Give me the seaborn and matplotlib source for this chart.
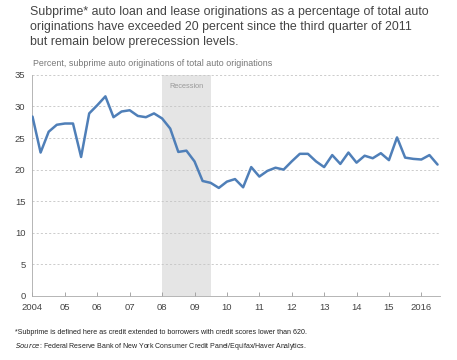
import numpy as np
import pandas as pd
import matplotlib
matplotlib.use("Agg")
import matplotlib.pyplot as plt
import seaborn as sns

# Quarterly data, 2004Q1 - 2016Q3
start_year = 2004
values = [28.4, 22.7, 26.0, 27.1,
          27.3, 27.3, 22.0, 28.9,
          30.2, 31.6, 28.3, 29.2,
          29.4, 28.5, 28.3, 28.9,
          28.1, 26.5, 22.8, 23.0,
          21.3, 18.2, 17.9, 17.1,
          18.1, 18.5, 17.2, 20.4,
          18.9, 19.8, 20.3, 20.0,
          21.3, 22.5, 22.5, 21.3,
          20.4, 22.3, 20.9, 22.7,
          21.1, 22.2, 21.8, 22.6,
          21.5, 25.1, 21.9, 21.7,
          21.6, 22.3, 20.8]
tick_years = list(range(2004, 2017))
tick_labels = ["2004", "05", "06", "07", "08", "09", "10", "11", "12", "13", "14", "15", "2016"]
y_ticks = [0, 5, 10, 15, 20, 25, 30, 35]
recession = (2008.0, 2009.5)

title = ("Subprime* auto loan and lease originations as a percentage of total auto\n"
         "originations have exceeded 20 percent since the third quarter of 2011\n"
         "but remain below prerecession levels.")
subtitle = "Percent, subprime auto originations of total auto originations"
note = "*Subprime is defined here as credit extended to borrowers with credit scores lower than 620."

df = pd.DataFrame({"t": [start_year + i * 0.25 for i in range(len(values))],
                   "v": values})

sns.set_theme(style="white")
plt.rcParams["font.family"] = ["Liberation Sans", "DejaVu Sans"]

fig = plt.figure(figsize=(4.57, 3.6), dpi=100)
ax = fig.add_axes([0.0711, 0.178, 0.892, 0.614])

ax.axvspan(recession[0], recession[1], color="#e5e5e5", lw=0, zorder=0)
ax.text((recession[0] + recession[1]) / 2, 33.2, "Recession", ha="center", va="center",
        fontsize=5.3, color="#999999")

for yv in y_ticks[1:]:
    ax.axhline(yv, color="#c4c4c4", lw=0.6, ls=(0, (2.5, 2.5)), zorder=1)

sns.lineplot(data=df, x="t", y="v", ax=ax, color="#4f7fb8", lw=1.8, zorder=3)

ax.set_xlim(2004, 2016.58)
ax.set_ylim(0, 35)
ax.set_xticks(tick_years)
ax.set_xticklabels(tick_labels)
ax.set_yticks(y_ticks)
ax.set_xlabel("")
ax.set_ylabel("")
ax.tick_params(axis="x", direction="in", length=3, width=0.6, color="#999999",
               labelsize=6.8, labelcolor="#444444", pad=5, bottom=True)
ax.tick_params(axis="y", length=0, labelsize=6.8, labelcolor="#444444", pad=5)
for s in ["top", "right"]:
    ax.spines[s].set_visible(False)
for s in ["left", "bottom"]:
    ax.spines[s].set_color("#aaaaaa")
    ax.spines[s].set_linewidth(0.6)

fig.text(30 / 457, 1 - 6 / 360, title, ha="left", va="top", fontsize=8.9,
         color="#444444", linespacing=1.33)
fig.text(33 / 457, 1 - 63 / 360, subtitle, ha="left", va="center", fontsize=6.4,
         color="#777777")
fig.text(15 / 457, 1 - 333 / 360, note, ha="left", va="center", fontsize=5.15,
         color="#222222")
fig.text(15 / 457, 1 - 347 / 360,
         r"$\it{Source}$" + ": Federal Reserve Bank of New York Consumer Credit Panel/Equifax/Haver Analytics.",
         ha="left", va="center", fontsize=5.0, color="#222222")

fig.savefig("out.png", dpi=100)
